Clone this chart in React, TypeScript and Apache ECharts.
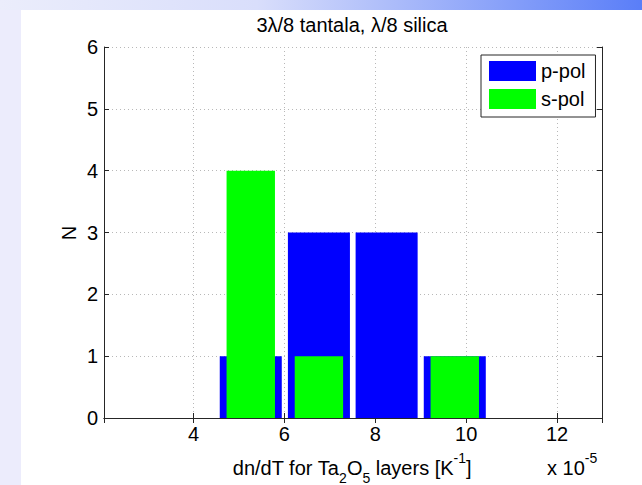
import React, { useEffect, useRef } from "react";
import * as echarts from "echarts";

// Histogram bin centres (x 1e-5 K^-1) and counts
const binCenters = [5.26, 6.76, 8.25, 9.75];
const pPolCounts = [1, 3, 3, 1];
const sPolCounts = [4, 1, 0, 1];
const seriesNames = ["p-pol", "s-pol"];
const titleText = "3\u03bb/8 tantala, \u03bb/8 silica";

const FONT = "'Liberation Sans', Arial, sans-serif";
const BLUE = "#0000ff";
const GREEN = "#00ff00";

export default function App() {
  const ref = useRef<HTMLDivElement>(null);

  useEffect(() => {
    if (!ref.current) return;
    const chart = echarts.init(ref.current, null, { renderer: "svg" });
    const binSpacing = binCenters[1] - binCenters[0];

    const makeRender = (color: string, frac: number) => (params: any, api: any) => {
      const x = api.value(0);
      const y = api.value(1);
      if (!y) return null;
      const top = api.coord([x, y]);
      const bottom = api.coord([x, 0]);
      const w = api.size([binSpacing, 0])[0] * frac;
      return {
        type: "rect",
        shape: { x: top[0] - w / 2, y: top[1], width: w, height: bottom[1] - top[1] },
        style: { fill: color },
      };
    };

    const splitLine = { show: true, lineStyle: { color: "#b8b8b8", type: [1, 3], width: 1 } };
    const axisLine = { show: true, lineStyle: { color: "#262626", width: 1 } };
    const tick = { show: true, inside: true, length: 5, lineStyle: { color: "#262626" } };
    const labelStyle = { color: "#000", fontSize: 20, fontFamily: FONT };

    chart.setOption({
      animation: false,
      backgroundColor: "#ffffff",
      grid: { left: 104, right: 40, top: 47, bottom: 67, containLabel: false },
      xAxis: [
        {
          type: "value",
          position: "bottom",
          min: 2.03,
          max: 12.99,
          splitNumber: 5,
          axisLine,
          axisTick: tick,
          axisLabel: {
            ...labelStyle,
            margin: 6,
            showMinLabel: false,
            showMaxLabel: false,
            formatter: (v: number) => (Number.isInteger(v) ? String(v) : ""),
          },
          splitLine,
        },
        {
          type: "value",
          position: "top",
          min: 2.03,
          max: 12.99,
          splitNumber: 5,
          axisLine,
          axisTick: tick,
          axisLabel: { show: false },
          splitLine: { show: false },
        },
      ],
      yAxis: [
        {
          type: "value",
          position: "left",
          min: 0,
          max: 6,
          interval: 1,
          axisLine,
          axisTick: tick,
          axisLabel: { ...labelStyle, margin: 6 },
          splitLine,
        },
        {
          type: "value",
          position: "right",
          min: 0,
          max: 6,
          interval: 1,
          axisLine,
          axisTick: tick,
          axisLabel: { show: false },
          splitLine: { show: false },
        },
      ],
      legend: {
        orient: "vertical",
        left: 481,
        top: 55,
        padding: [6, 10, 8, 8],
        itemGap: 8,
        itemWidth: 47,
        itemHeight: 20,
        backgroundColor: "#ffffff",
        borderColor: "#262626",
        borderWidth: 1,
        borderRadius: 0,
        textStyle: { ...labelStyle },
        data: [
          { name: seriesNames[0], icon: "rect" },
          { name: seriesNames[1], icon: "rect" },
        ],
      },
      series: [
        {
          type: "custom",
          name: seriesNames[0],
          xAxisIndex: 0,
          yAxisIndex: 0,
          itemStyle: { color: BLUE },
          encode: { x: 0, y: 1 },
          renderItem: makeRender(BLUE, 0.91),
          data: binCenters.map((c, i) => [c, pPolCounts[i]]),
          z: 2,
        },
        {
          type: "custom",
          name: seriesNames[1],
          xAxisIndex: 0,
          yAxisIndex: 0,
          itemStyle: { color: GREEN },
          encode: { x: 0, y: 1 },
          renderItem: makeRender(GREEN, 0.71),
          data: binCenters.map((c, i) => [c, sPolCounts[i]]),
          z: 3,
        },
      ],
      graphic: [
        {
          type: "rect",
          silent: true,
          shape: { x: 0, y: 0, width: 21, height: 485 },
          style: { fill: "#ececfc" },
        },
        {
          type: "rect",
          silent: true,
          shape: { x: 0, y: 0, width: 642, height: 10 },
          style: {
            fill: new echarts.graphic.LinearGradient(0, 0, 1, 0, [
              { offset: 0, color: "#ebedfb" },
              { offset: 0.4, color: "#d9defb" },
              { offset: 1, color: "#5a7ef8" },
            ]),
          },
        },
        {
          type: "text",
          x: 352,
          y: 25,
          style: {
            text: titleText,
            fill: "#000",
            font: `20px ${FONT}`,
            align: "center",
            verticalAlign: "middle",
          },
        },
        {
          type: "text",
          x: 69,
          y: 233,
          rotation: Math.PI / 2,
          style: {
            text: "N",
            fill: "#000",
            font: `20px ${FONT}`,
            align: "center",
            verticalAlign: "middle",
          },
        },
        {
          type: "text",
          x: 352,
          y: 468,
          style: {
            text: "{n|dn/dT for Ta}{sub|2}{n|O}{sub|5}{n| layers [K}{sup|-1}{n|]}",
            align: "center",
            verticalAlign: "middle",
            rich: {
              n: { fontSize: 20, fontFamily: FONT, fill: "#000", lineHeight: 34, verticalAlign: "middle" },
              sub: { fontSize: 14, fontFamily: FONT, fill: "#000", lineHeight: 14, verticalAlign: "bottom" },
              sup: { fontSize: 14, fontFamily: FONT, fill: "#000", lineHeight: 14, verticalAlign: "top" },
            },
          },
        },
        {
          type: "text",
          x: 547,
          y: 468,
          style: {
            text: "{n|x 10}{sup|-5}",
            align: "left",
            verticalAlign: "middle",
            rich: {
              n: { fontSize: 20, fontFamily: FONT, fill: "#000", lineHeight: 34, verticalAlign: "middle" },
              sup: { fontSize: 14, fontFamily: FONT, fill: "#000", lineHeight: 14, verticalAlign: "top" },
            },
          },
        },
      ],
    });

    return () => chart.dispose();
  }, []);

  return (
    <div
      ref={ref}
      style={{ position: "fixed", left: 0, top: 0, width: 642, height: 485, background: "#fff" }}
    />
  );
}
